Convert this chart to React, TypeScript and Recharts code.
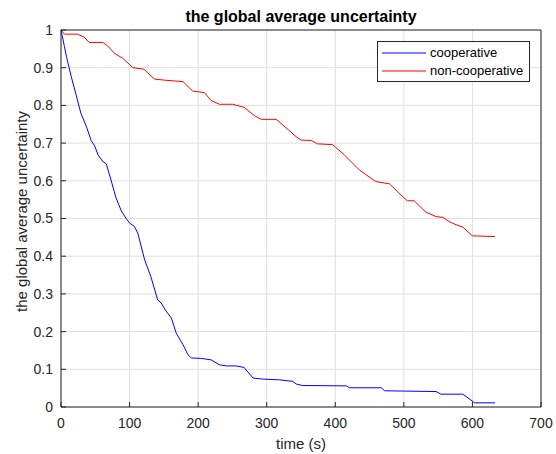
import { CartesianGrid, Legend, Line, LineChart, XAxis, YAxis } from "recharts";

// time (s) and uncertainty
const coopTime = [
  0, 5, 8, 15, 22, 29, 37, 44, 49, 54, 61, 66, 73, 80, 88, 95, 100, 107, 112, 122, 131, 141, 146,
  153, 161, 168, 178, 185, 190, 204, 219, 231, 241, 255, 267, 280, 294, 319, 338, 343, 352, 416,
  421, 467, 472, 547, 554, 586, 596, 603, 633,
];
const coopValue = [
  1.0, 0.956, 0.929, 0.876, 0.828, 0.779, 0.744, 0.707, 0.693, 0.669, 0.651, 0.645, 0.602, 0.556,
  0.52, 0.5, 0.488, 0.479, 0.461, 0.39, 0.346, 0.284, 0.276, 0.255, 0.236, 0.196, 0.165, 0.139,
  0.13, 0.129, 0.125, 0.112, 0.109, 0.109, 0.105, 0.077, 0.074, 0.072, 0.068, 0.061, 0.057, 0.056,
  0.051, 0.051, 0.043, 0.041, 0.034, 0.034, 0.021, 0.011, 0.011,
];

const nonCoopTime = [
  0, 5, 24, 34, 41, 61, 68, 78, 90, 105, 121, 136, 151, 178, 192, 209, 219, 231, 250, 267, 282,
  292, 314, 343, 350, 365, 374, 396, 413, 435, 459, 479, 493, 505, 515, 532, 547, 557, 566, 574,
  586, 600, 633,
];
const nonCoopValue = [
  1.0, 0.989, 0.989, 0.981, 0.967, 0.967, 0.958, 0.938, 0.925, 0.9, 0.896, 0.87, 0.867, 0.863,
  0.838, 0.834, 0.813, 0.803, 0.803, 0.795, 0.773, 0.763, 0.763, 0.717, 0.708, 0.707, 0.698, 0.696,
  0.669, 0.629, 0.598, 0.592, 0.567, 0.547, 0.547, 0.517, 0.505, 0.503, 0.492, 0.485, 0.477, 0.454,
  0.452,
];

const xTicks = [0, 100, 200, 300, 400, 500, 600, 700];
const yTicks = [0, 0.1, 0.2, 0.3, 0.4, 0.5, 0.6, 0.7, 0.8, 0.9, 1];

const seriesNames = ["cooperative", "non-cooperative"];
const seriesColors = ["#0000ff", "#ff0000"];

const titleText = "the global average uncertainty";
const xLabel = "time (s)";
const yLabel = "the global average uncertainty";

const FONT = "'Liberation Sans', Arial, Helvetica, sans-serif";
const AXIS = "#262626";

const coopData = coopTime.map((t, i) => ({ t, v: coopValue[i] }));
const nonCoopData = nonCoopTime.map((t, i) => ({ t, v: nonCoopValue[i] }));

const LegendBox = () => (
  <div
    style={{
      boxSizing: "border-box",
      width: 153,
      border: "1px solid #262626",
      background: "#fff",
      padding: "2px 4px 1px 4px",
      fontFamily: FONT,
      fontSize: 13,
      color: "#000",
      lineHeight: "18px",
    }}
  >
    {seriesNames.map((name, i) => (
      <div key={name} style={{ display: "flex", alignItems: "center", whiteSpace: "nowrap" }}>
        <svg width={44} height={18} style={{ marginRight: 4, display: "block" }}>
          <line x1={0} x2={44} y1={9} y2={9} stroke={seriesColors[i]} strokeWidth={1} />
        </svg>
        {name}
      </div>
    ))}
  </div>
);

// rotated y label, nudged up a little like the MATLAB original
const YLabel = ({ viewBox }: any) => {
  const x = viewBox.x + 21;
  const y = viewBox.y + viewBox.height / 2 - 7;
  return (
    <text
      x={x}
      y={y}
      transform={`rotate(-90 ${x} ${y})`}
      textAnchor="middle"
      dominantBaseline="central"
      fill={AXIS}
      fontSize={15}
      fontFamily={FONT}
    >
      {yLabel}
    </text>
  );
};

const App = () => {
  return (
    <div style={{ position: "absolute", left: 0, top: 0, background: "#fff" }}>
      <LineChart width={556} height={454} margin={{ top: 29, right: 14, bottom: 0, left: 0 }}>
        <CartesianGrid stroke="#dfdfdf" strokeWidth={1} />
        <XAxis
          type="number"
          dataKey="t"
          domain={[0, 700]}
          ticks={xTicks}
          height={47}
          stroke={AXIS}
          tickSize={-5}
          tickMargin={16}
          tick={{ fill: AXIS, fontSize: 14, fontFamily: FONT }}
          label={{
            value: xLabel,
            position: "insideBottom",
            offset: 5,
            fill: AXIS,
            fontSize: 15,
            fontFamily: FONT,
          }}
        />
        <XAxis
          xAxisId="top"
          orientation="top"
          type="number"
          domain={[0, 700]}
          ticks={xTicks}
          height={1}
          stroke={AXIS}
          tickSize={-5}
          tick={false}
          label={{
            value: titleText,
            position: "top",
            offset: 7,
            fill: "#000",
            fontSize: 16,
            fontWeight: "bold",
            fontFamily: FONT,
          }}
        />
        <YAxis
          type="number"
          domain={[0, 1]}
          ticks={yTicks}
          width={61}
          stroke={AXIS}
          tickSize={-5}
          tickMargin={13}
          tick={{ fill: AXIS, fontSize: 14, fontFamily: FONT }}
          label={<YLabel />}
        />
        <YAxis
          yAxisId="right"
          orientation="right"
          type="number"
          domain={[0, 1]}
          ticks={yTicks}
          width={1}
          stroke={AXIS}
          tickSize={-5}
          tick={false}
        />
        <Legend
          layout="horizontal"
          align="center"
          verticalAlign="middle"
          content={<LegendBox />}
          wrapperStyle={{ left: 377, top: 41, width: "auto", height: "auto" }}
        />
        <Line
          data={coopData}
          dataKey="v"
          name={seriesNames[0]}
          stroke={seriesColors[0]}
          strokeWidth={1}
          dot={false}
          type="linear"
          isAnimationActive={false}
        />
        <Line
          data={nonCoopData}
          dataKey="v"
          name={seriesNames[1]}
          stroke={seriesColors[1]}
          strokeWidth={1}
          dot={false}
          type="linear"
          isAnimationActive={false}
        />
      </LineChart>
    </div>
  );
};

export default App;
